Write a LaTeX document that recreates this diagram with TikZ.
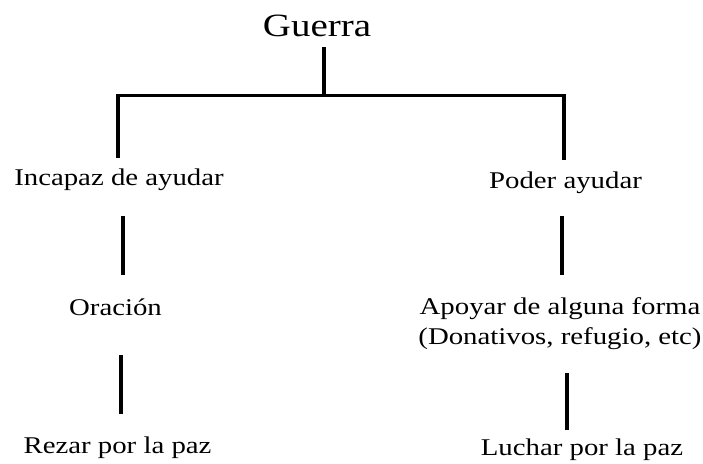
\documentclass[tikz,border=0pt]{standalone}
\usepackage{fontspec}
\setmainfont{Liberation Serif}[FakeStretch=1.2]
\usepackage{tikz}

\begin{document}
\begin{tikzpicture}[x=1pt,y=-1pt,
  word/.style={font=\fontsize{24}{30}\selectfont, inner sep=0pt, text height=16pt, text depth=5pt, anchor=base},
  words/.style={font=\fontsize{24}{30}\selectfont, inner sep=0pt, align=center, anchor=north},
  stem/.style={line width=3.2pt}]
\useasboundingbox (0,0) rectangle (703,463);
\node (a) at (317, 36) [anchor=base, inner sep=0pt, text height=22pt, text depth=7pt, font=\fontsize{32.5}{36}\selectfont] {Guerra};
\node (b) at (119, 185) [word] {Incapaz de ayudar};
\node (c) at (565.5, 188) [word] {Poder ayudar};
\node (d) at (115.5, 315) [word] {Oración};
\node (e) at (560, 297) [words] {Apoyar de alguna forma\\(Donativos, refugio, etc)};
\node (f) at (117.5, 453) [word] {Rezar por la paz};
\node (g) at (582, 455) [word] {Luchar por la paz};
\coordinate (bar) at (324, 95.5);

\draw [stem, shorten <=4pt] ([xshift=7pt]a.south) -- ([xshift=7pt]a.south |- bar);
\draw [stem] ([shift={(-1pt,11pt)}]b.north) -- ([xshift=-1pt]b.north |- bar) -- ([xshift=-1.5pt]c.north |- bar) -- ([shift={(-1.5pt,12pt)}]c.north);
\draw [stem, shorten <=26pt, shorten >=24pt] ([xshift=4pt]b.south) -- ([xshift=4pt]b.south |- d.north);
\draw [stem, shorten <=35pt, shorten >=23pt] ([xshift=5.5pt]d.south) -- ([xshift=5.5pt]d.south |- f.north);
\draw [stem, shorten <=23pt, shorten >=22pt] ([xshift=-3.5pt]c.south) -- ([xshift=-3.5pt]c.south |- e.north);
\draw [stem, shorten <=24pt, shorten >=9pt] ([xshift=7pt]e.south) -- ([xshift=7pt]e.south |- g.north);
\end{tikzpicture}
\end{document}
